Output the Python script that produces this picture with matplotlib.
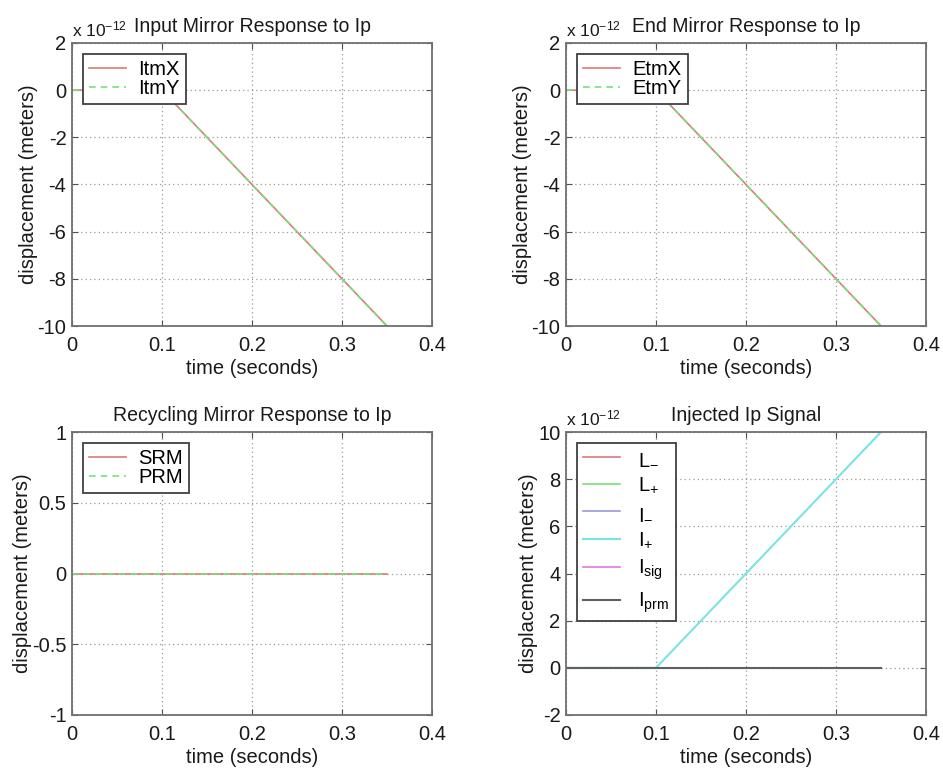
import matplotlib
matplotlib.use('Agg')
import matplotlib.pyplot as plt
from matplotlib.ticker import FuncFormatter

plt.rcParams['font.family'] = ['Liberation Sans', 'DejaVu Sans']
plt.rcParams['mathtext.default'] = 'regular'
plt.rcParams['axes.unicode_minus'] = False

# time points (seconds) where the signals change slope
t = [0.0, 0.1, 0.35]

# mirror responses (meters)
itm_x = [0.0, 0.0, -10e-12]
itm_y = [0.0, 0.0, -10e-12]
etm_x = [0.0, 0.0, -10e-12]
etm_y = [0.0, 0.0, -10e-12]
srm = [0.0, 0.0, 0.0]
prm = [0.0, 0.0, 0.0]

# injected Ip signals (meters)
l_minus = [0.0, 0.0, 0.0]
l_plus = [0.0, 0.0, 0.0]
i_minus = [0.0, 0.0, 0.0]
i_plus = [0.0, 0.0, 10e-12]
i_sig = [0.0, 0.0, 0.0]
i_prm = [0.0, 0.0, 0.0]

x_ticks = [0, 0.1, 0.2, 0.3, 0.4]
resp_ticks = [2e-12, 0, -2e-12, -4e-12, -6e-12, -8e-12, -10e-12]
rec_ticks = [-1, -0.5, 0, 0.5, 1]
inj_ticks = [-2e-12, 0, 2e-12, 4e-12, 6e-12, 8e-12, 10e-12]

RED = '#e07878'
GREEN = '#78e078'
BLUE = '#9898e0'
CYAN = '#78e4e4'
MAGENTA = '#e078e0'
GRAY = '#606060'
TXT = '#1a1a1a'
FS = 14.5

fig = plt.figure(figsize=(9.43, 7.7), dpi=100)

W = 360 / 943
H = 283 / 770
ax_tl = fig.add_axes([72 / 943, 1 - 326 / 770, W, H])
ax_tr = fig.add_axes([566 / 943, 1 - 326 / 770, W, H])
ax_bl = fig.add_axes([72 / 943, 1 - 715 / 770, W, H])
ax_br = fig.add_axes([566 / 943, 1 - 715 / 770, W, H])


def style(ax, title, yticks, scale=None):
    ax.set_xlim(0, 0.4)
    ax.set_ylim(min(yticks), max(yticks))
    ax.set_xticks(x_ticks)
    ax.set_yticks(yticks)
    ax.xaxis.set_major_formatter(FuncFormatter(lambda v, p: f'{v:g}'))
    if scale:
        ax.yaxis.set_major_formatter(FuncFormatter(lambda v, p: f'{round(v / scale):d}'))
        ax.text(0.0, 1.012, r'x 10$^{-12}$', transform=ax.transAxes,
                fontsize=FS * 0.86, ha='left', va='bottom', color=TXT)
    else:
        ax.yaxis.set_major_formatter(FuncFormatter(lambda v, p: f'{v:g}'))
    ax.tick_params(direction='in', length=4, top=True, right=True,
                   labelsize=FS, color='#505050', labelcolor=TXT)
    ax.tick_params(axis='x', pad=7)
    ax.tick_params(axis='y', pad=4)
    ax.grid(True, linestyle=(0, (1, 2.5)), color='#9a9a9a', linewidth=0.9)
    for s in ax.spines.values():
        s.set_color('#707070')
        s.set_linewidth(1.3)
    ax.set_title(title, fontsize=FS * 0.97, pad=8, color=TXT)
    ax.set_xlabel('time (seconds)', fontsize=FS, labelpad=3, color=TXT)
    ax.set_ylabel('displacement (meters)', fontsize=FS, labelpad=0, color=TXT)


def legend(ax, spacing=0.0, textpad=0.6):
    leg = ax.legend(loc='upper left', fontsize=FS, frameon=True, fancybox=False,
                    edgecolor='#404040', framealpha=1, handlelength=1.85,
                    borderaxespad=0.55, labelspacing=spacing, handletextpad=textpad,
                    borderpad=0.3)
    leg.get_frame().set_linewidth(1.3)
    return leg


ax_tl.plot(t, itm_x, color=RED, lw=1.2, label='ItmX')
ax_tl.plot(t, itm_y, color=GREEN, lw=1.2, ls=(0, (4, 3)), label='ItmY')
style(ax_tl, 'Input Mirror Response to Ip', resp_ticks, 1e-12)
legend(ax_tl)

ax_tr.plot(t, etm_x, color=RED, lw=1.2, label='EtmX')
ax_tr.plot(t, etm_y, color=GREEN, lw=1.2, ls=(0, (4, 3)), label='EtmY')
style(ax_tr, 'End Mirror Response to Ip', resp_ticks, 1e-12)
legend(ax_tr)

ax_bl.plot(t, srm, color=RED, lw=1.2, label='SRM')
ax_bl.plot(t, prm, color=GREEN, lw=1.2, ls=(0, (4, 3)), label='PRM')
style(ax_bl, 'Recycling Mirror Response to Ip', rec_ticks)
legend(ax_bl)

ax_br.plot(t, l_minus, color=RED, lw=1.2, label=r'L$_{-}$')
ax_br.plot(t, l_plus, color=GREEN, lw=1.2, label=r'L$_{+}$')
ax_br.plot(t, i_minus, color=BLUE, lw=1.2, label=r'I$_{-}$')
ax_br.plot(t, i_plus, color=CYAN, lw=1.5, label=r'I$_{+}$')
ax_br.plot(t, i_sig, color=MAGENTA, lw=1.2, label=r'I$_{sig}$')
ax_br.plot(t, i_prm, color=GRAY, lw=1.5, label=r'I$_{prm}$')
style(ax_br, 'Injected Ip Signal', inj_ticks, 1e-12)
legend(ax_br, spacing=0.4, textpad=0.9)

fig.savefig('out.png', dpi=100)
